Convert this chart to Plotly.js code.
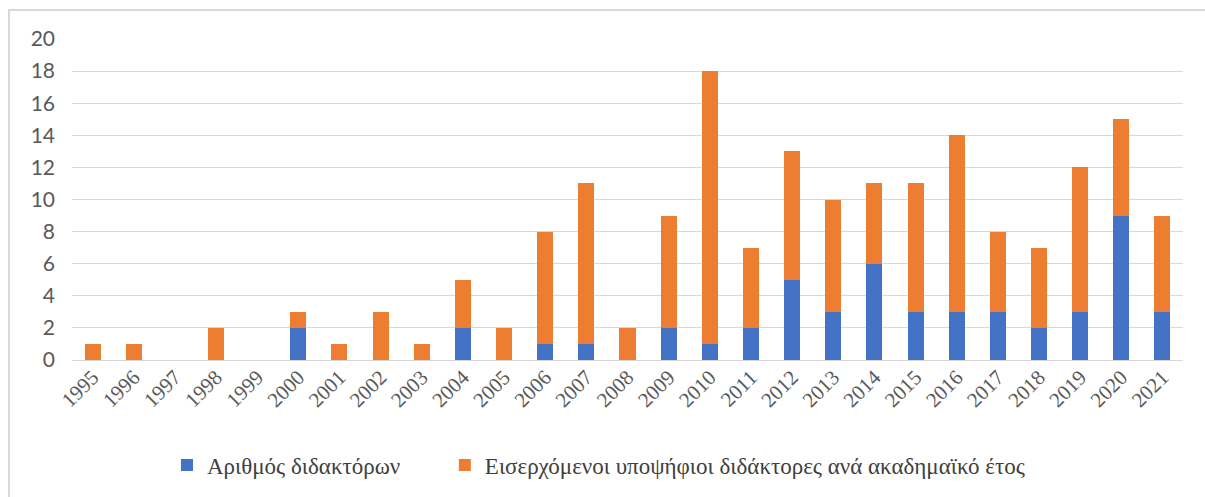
<!DOCTYPE html>
<html><head><meta charset="utf-8">
<script src="https://cdn.plot.ly/plotly-3.0.1.min.js"></script>
<style>
html,body{margin:0;padding:0;background:#fff;}
#frame{position:absolute;left:8px;top:9px;width:1300px;height:600px;border-left:2px solid #d9d9d9;border-top:2px solid #d9d9d9;pointer-events:none;}
#chart{position:absolute;left:0;top:0;width:1205px;height:497px;}
</style></head>
<body>
<div id="chart"></div>
<div id="frame"></div>
<script>
const years = ["1995","1996","1997","1998","1999","2000","2001","2002","2003","2004","2005","2006","2007","2008","2009","2010","2011","2012","2013","2014","2015","2016","2017","2018","2019","2020","2021"];
const doctors = [0,0,0,0,0,2,0,0,0,2,0,1,1,0,2,1,2,5,3,6,3,3,3,2,3,9,3];
const incoming = [1,1,0,2,0,1,1,3,1,3,2,7,10,2,7,17,5,8,7,5,8,11,5,5,9,6,6];
const seriesNames = ["Αριθμός διδακτόρων","Εισερχόμενοι υποψήφιοι διδάκτορες ανά ακαδημαϊκό έτος"];

const serifFont = "Liberation Serif";
const legendFont = {family:serifFont, size:23, color:'#404040'};
const data = [
  {type:'bar', x:years, y:doctors, name:seriesNames[0], marker:{color:'#4472c4'}, legend:'legend'},
  {type:'bar', x:years, y:incoming, name:seriesNames[1], marker:{color:'#ed7d31'}, legend:'legend2'}
];
const layout = {
  width:1205, height:497,
  margin:{l:72, r:22, t:39, b:136},
  barmode:'stack', bargap:0.61,
  paper_bgcolor:'#fff', plot_bgcolor:'#fff',
  showlegend:true,
  legend:{orientation:'h', x:0.0855, xanchor:'left', y:-0.323, yanchor:'middle', font:legendFont, itemwidth:30},
  legend2:{orientation:'h', x:0.3356, xanchor:'left', y:-0.323, yanchor:'middle', font:legendFont, itemwidth:30},
  xaxis:{type:'category', tickangle:-45, showgrid:false, showline:false, zeroline:false,
         tickfont:{family:serifFont, size:21, color:'#595959'}, ticks:''},
  yaxis:{range:[0,20], dtick:2, showgrid:true, gridcolor:'#d9d9d9', gridwidth:1,
         zeroline:true, zerolinecolor:'#d9d9d9', zerolinewidth:1, showline:false, ticks:'',
         ticklabelstandoff:16,
         tickfont:{family:"Lato", size:21, color:'#595959'}}
};
Plotly.newPlot('chart', data, layout, {staticPlot:true});
</script>
</body></html>
